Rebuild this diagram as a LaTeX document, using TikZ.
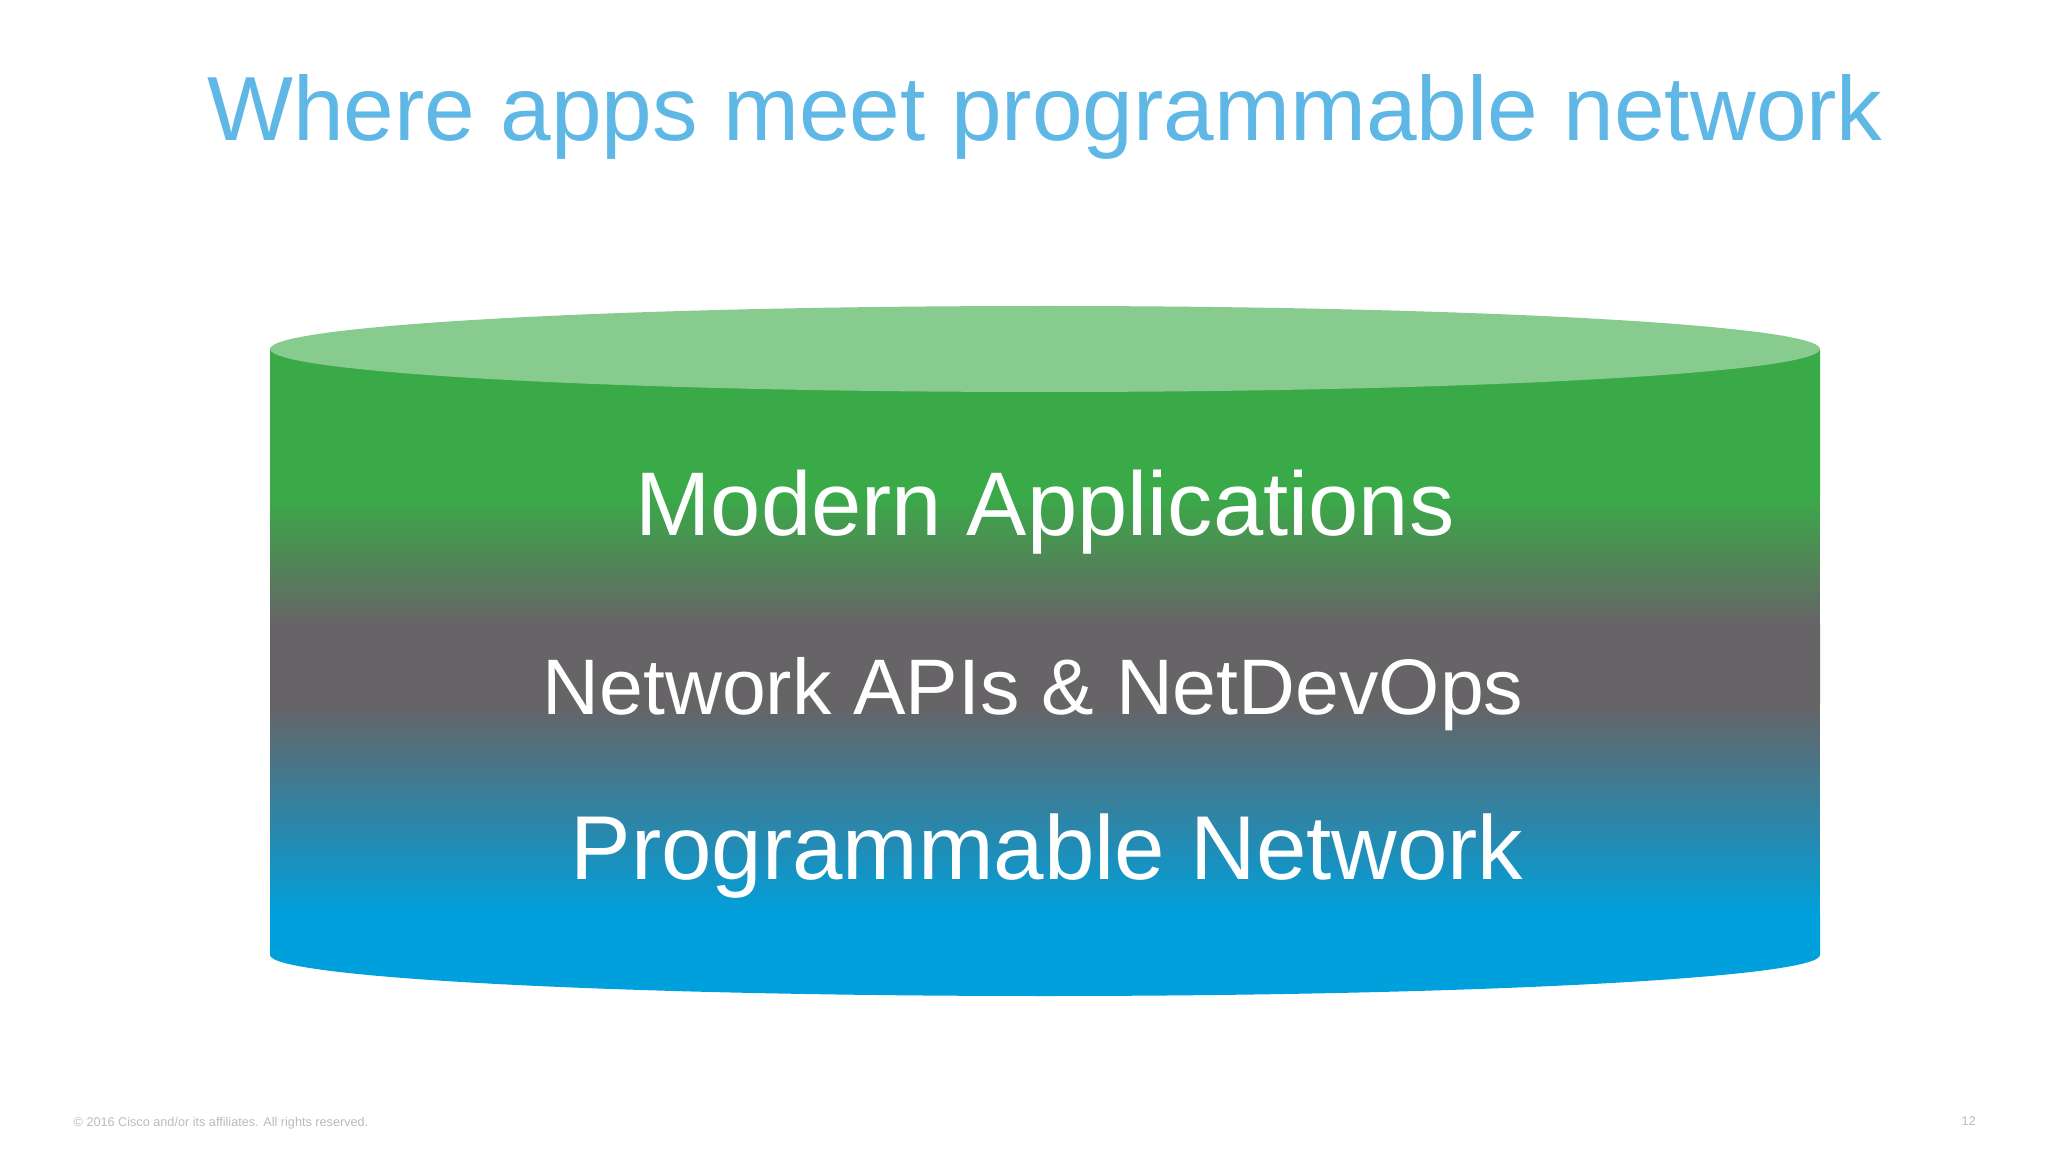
\documentclass[tikz,border=0pt]{standalone}
\usepackage{fontspec}
\setmainfont{Liberation Sans}
\definecolor{ciscoblue}{HTML}{00A0DC}
\definecolor{titleblue}{HTML}{5EB7E4}
\definecolor{appgreen}{HTML}{3AAA48}
\definecolor{lidgreen}{HTML}{88CB8F}
\definecolor{apigray}{HTML}{666466}
\definecolor{footgray}{HTML}{BBBBBB}
\begin{document}
\begin{tikzpicture}[x=0.01cm,y=-0.01cm,
    layertext/.style={text=white,anchor=base,inner sep=0pt},
    foottext/.style={text=footgray,anchor=base west,inner sep=0pt,font=\fontsize{3.6}{4.5}\selectfont}]
                \useasboundingbox (0,0) rectangle (2048,1152);
                \fill[white] (0,0) rectangle (2048,1152);
                \node[anchor=base,inner sep=0pt,text=titleblue,font=\fontsize{25.9}{30}\selectfont] (title) at (1045,141) {Where apps meet programmable network};
                % cylinder body
                \begin{scope}
                \clip (270,349) -- (270,955) arc[start angle=180,end angle=0,x radius=775,y radius=41] -- (1820,349) -- cycle;
                \fill[appgreen] (260,300) rectangle (1830,496);
                \shade[top color=appgreen,bottom color=apigray] (260,495) rectangle (1830,624);
                \fill[apigray] (260,623) rectangle (1830,705);
                \shade[top color=apigray,bottom color=ciscoblue] (260,704) rectangle (1830,915);
                \fill[ciscoblue] (260,914) rectangle (1830,1000);
                \end{scope}
                \fill[lidgreen] (1045,349) ellipse[x radius=775,y radius=43];
                \node[layertext,font=\fontsize{25.7}{30}\selectfont] (apps) at (1045,535) {Modern Applications};
                \node[layertext,font=\fontsize{22.4}{26}\selectfont] (apis) at (1033,715) {Network APIs \& NetDevOps};
                \node[layertext,font=\fontsize{25.8}{30}\selectfont] (prognet) at (1047,879) {Programmable Network};
                \node[foottext] (copyright) at (73,1126) {© 2016 Cisco and/or its affiliates. All rights reserved.};
                \node[foottext] (pagenum) at (1961,1125) {12};
            \end{tikzpicture}
\end{document}
